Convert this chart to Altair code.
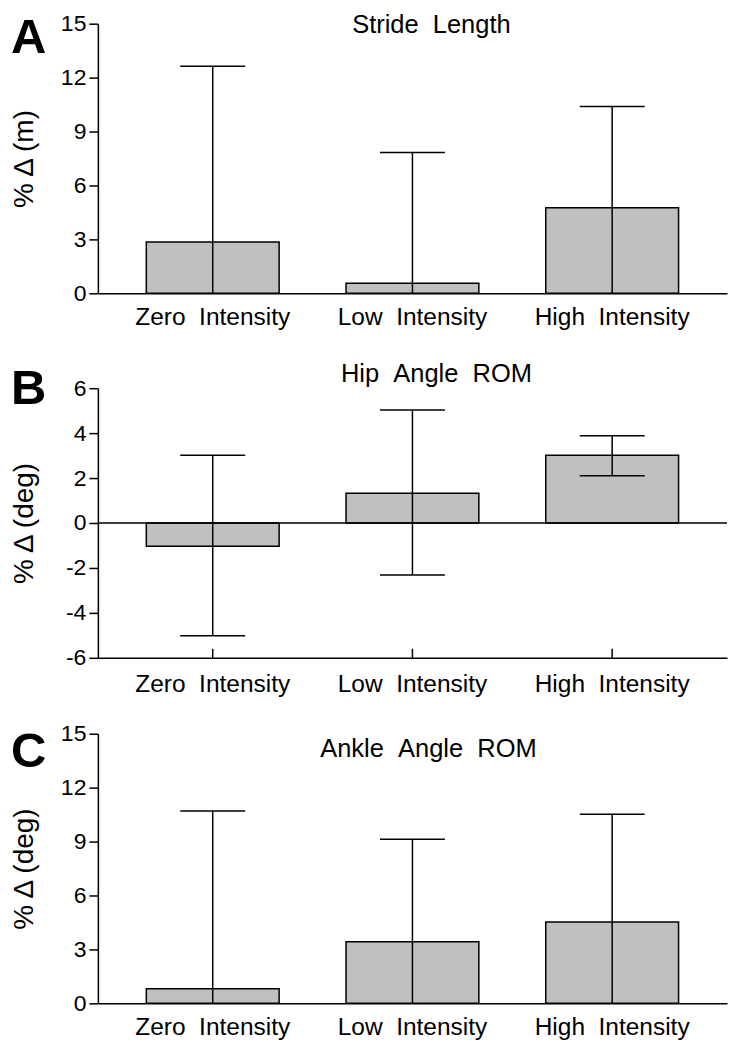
import altair as alt
import pandas as pd

categories = ["Zero Intensity", "Low Intensity", "High Intensity"]

stride_mean = [2.85, 0.56, 4.76]
stride_upper = [12.63, 7.83, 10.39]
stride_lower = [0, 0, 0]

hip_mean = [-1.03, 1.32, 3.02]
hip_upper = [3.02, 5.03, 3.88]
hip_lower = [-5.02, -2.31, 2.10]

ankle_mean = [0.81, 3.42, 4.53]
ankle_upper = [10.70, 9.13, 10.52]
ankle_lower = [0, 0, 0]

panel_letters = ["A", "B", "C"]
panel_titles = ["Stride Length", "Hip Angle ROM", "Ankle Angle ROM"]
y_titles = ["% Δ (m)", "% Δ (deg)", "% Δ (deg)"]
y_domains = [[0, 15], [-6, 6], [0, 15]]
y_ticks = [[0, 3, 6, 9, 12, 15], [-6, -4, -2, 0, 2, 4, 6], [0, 3, 6, 9, 12, 15]]

FONT = "Liberation Sans"
W, H = 630, 270
NB2 = "\u00a0\u00a0"
SPACE_EXPR = "replace(datum.label, regexp(' ', 'g'), '" + NB2 + "')"


def panel(i, mean, lower, upper, title_x, title_y, letter_y, label_pad,
          lower_caps, zero_line, inner_ticks):
    df = pd.DataFrame({"cat": categories, "mean": mean, "lo": lower, "hi": upper})
    xscale = alt.Scale(paddingInner=0.335, paddingOuter=0.2425)
    xenc = alt.X("cat:N", sort=categories, scale=xscale,
                 axis=alt.Axis(title=None, labelAngle=0, labelFontSize=24.5, labelFont=FONT,
                               labelColor="black", labelPadding=label_pad, tickSize=0,
                               domainColor="black", domainWidth=1.5, labelExpr=SPACE_EXPR))
    xplain = alt.X("cat:N", sort=categories)
    yscale = alt.Scale(domain=y_domains[i], nice=False, zero=False)
    yaxis = alt.Axis(title=y_titles[i], values=y_ticks[i], grid=False, tickSize=9,
                     tickWidth=1.5, tickColor="black", domainColor="black", domainWidth=1.5,
                     labelFontSize=23, labelFont=FONT, labelColor="black", labelPadding=3,
                     labelExpr="datum.value + ''",
                     titleFontSize=28, titleFont=FONT, titleFontWeight="normal",
                     titleColor="black", titleX=-59, titleY=H / 2, titleAngle=270,
                     titleBaseline="bottom", titleAlign="center")
    base = alt.Chart(df)
    layers = [
        base.mark_bar(fill="#c0c0c0", stroke="black", strokeWidth=1.5).encode(
            x=xenc, y=alt.Y("mean:Q", scale=yscale, axis=yaxis)),
    ]
    if zero_line:
        layers.append(alt.Chart(pd.DataFrame({"v": [0]})).mark_rule(
            color="black", strokeWidth=1.5).encode(y="v:Q"))
    layers.append(base.mark_rule(color="black", strokeWidth=1.5).encode(
        x=xplain, y="lo:Q", y2="hi:Q"))
    layers.append(base.mark_tick(color="black", thickness=1.5, size=65, opacity=1).encode(
        x=xplain, y="hi:Q"))
    if lower_caps:
        layers.append(base.mark_tick(color="black", thickness=1.5, size=65, opacity=1).encode(
            x=xplain, y="lo:Q"))
    if inner_ticks:
        layers.append(base.mark_rule(color="black", strokeWidth=1.5).encode(
            x=xplain, y=alt.value(H), y2=alt.value(H - 9)))
    layers.append(alt.Chart(pd.DataFrame({"t": [panel_titles[i]]})).transform_calculate(
        t2="replace(datum.t, regexp(' ', 'g'), '" + NB2 + "')").mark_text(
        font=FONT, fontSize=25.5, align="center", baseline="alphabetic", color="black").encode(
        x=alt.value(title_x), y=alt.value(title_y), text="t2:N"))
    layers.append(alt.Chart(pd.DataFrame({"t": [panel_letters[i]]})).mark_text(
        font=FONT, fontSize=49, fontWeight="bold", align="left", baseline="alphabetic",
        color="black").encode(x=alt.value(-87), y=alt.value(letter_y), text="t:N"))
    return alt.layer(*layers).properties(width=W, height=H)


pA = panel(0, stride_mean, stride_lower, stride_upper, 334, 9, 29, 12, False, False, False)
pB = panel(1, hip_mean, hip_lower, hip_upper, 339, -6, 16, 15, True, True, True)
pC = panel(2, ankle_mean, ankle_lower, ankle_upper, 331, 23, 33, 12, False, False, False)

chart = alt.vconcat(alt.vconcat(pA, pB, spacing=33), pC, spacing=26).properties(
    padding={"top": 4, "left": 3, "right": 5, "bottom": 0}
).configure_view(stroke=None)

chart.save("out.html", embed_options={"renderer": "svg", "actions": False})
